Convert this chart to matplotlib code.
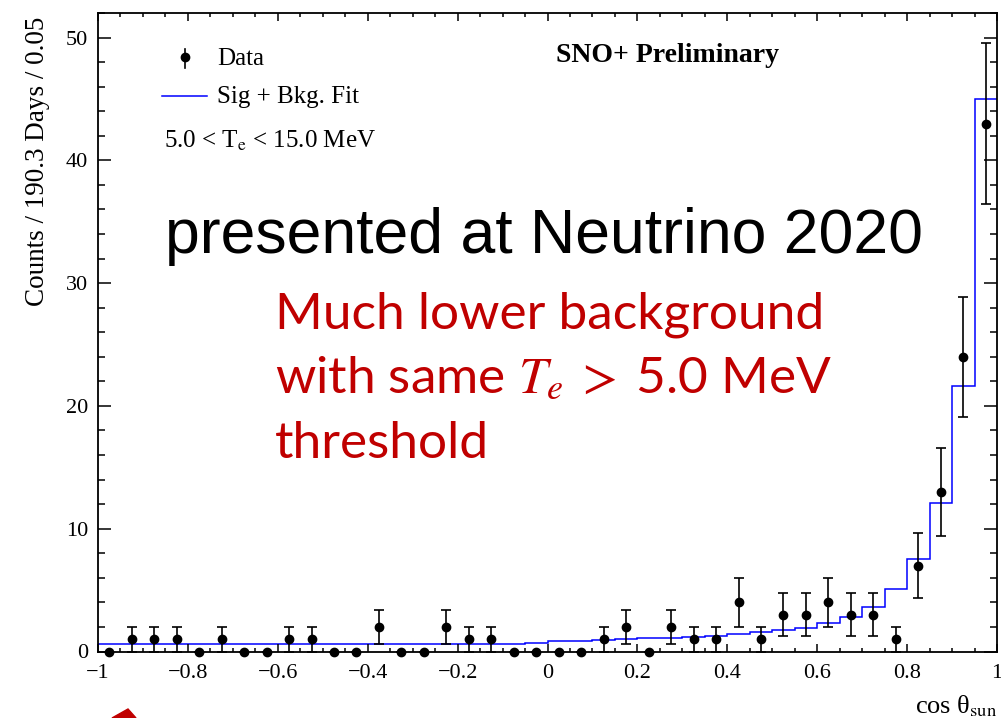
import numpy as np
import matplotlib
matplotlib.use("Agg")
import matplotlib.pyplot as plt
from matplotlib.lines import Line2D
from matplotlib.patches import Polygon
from matplotlib.ticker import MultipleLocator, FuncFormatter

# ------------------------------------------------------------
# data: cos(theta_sun) histogram, 40 bins of width 0.05
# ------------------------------------------------------------
bin_edges = np.linspace(-1.0, 1.0, 41)
bin_centers = 0.5 * (bin_edges[:-1] + bin_edges[1:])

data_counts = [0, 1, 1, 1, 0, 1, 0, 0, 1, 1,
               0, 0, 2, 0, 0, 2, 1, 1, 0, 0,
               0, 0, 1, 2, 0, 2, 1, 1, 4, 1,
               3, 3, 4, 3, 3, 1, 7, 13, 24, 43]

fit_counts = [0.6, 0.6, 0.6, 0.6, 0.6, 0.6, 0.6, 0.6, 0.6, 0.6,
              0.6, 0.6, 0.6, 0.6, 0.6, 0.6, 0.6, 0.6, 0.62, 0.73,
              0.87, 0.88, 0.9, 1.0, 1.08, 1.12, 1.22, 1.3, 1.42, 1.55,
              1.78, 1.95, 2.3, 2.83, 3.65, 5.1, 7.55, 12.1, 21.6, 45.0]

W, H = 1001, 718


def fx(px):
    return px / W


def fy(py):
    return 1 - py / H


plt.rcParams['font.family'] = ['Liberation Serif', 'DejaVu Serif']
plt.rcParams['mathtext.fontset'] = 'stix'

fig = plt.figure(figsize=(W / 100, H / 100), dpi=100)
ax = fig.add_axes([fx(98), fy(651.5), (997 - 98) / W, (651.5 - 13) / H])

# fit (step histogram)
ax.stairs(fit_counts, bin_edges, baseline=None, color='#0000ff', lw=1.1)

# data points with sqrt(N) errors
counts = np.array(data_counts, dtype=float)
ax.errorbar(bin_centers, counts, yerr=np.sqrt(counts), fmt='o', color='black',
            ms=6, elinewidth=1.2, capsize=3.5, capthick=1.2, clip_on=False,
            zorder=3)

ax.set_xlim(-1, 1)
ax.set_ylim(0, 52)

# ROOT-like axes: ticks inside on all four sides
ax.xaxis.set_major_locator(MultipleLocator(0.2))
ax.xaxis.set_minor_locator(MultipleLocator(0.05))
ax.yaxis.set_major_locator(MultipleLocator(10))
ax.yaxis.set_minor_locator(MultipleLocator(2))
ax.xaxis.set_major_formatter(FuncFormatter(lambda v, p: ('%g' % round(v, 2)).replace('-', '\u2212')))
ax.yaxis.set_major_formatter(FuncFormatter(lambda v, p: '%g' % v))
ax.tick_params(axis='both', which='both', direction='in', top=True, right=True,
               width=1.1, labelsize=16)
ax.tick_params(axis='x', which='major', length=6, pad=9)
ax.tick_params(axis='x', which='minor', length=3)
ax.tick_params(axis='y', which='major', length=9.5, pad=7)
ax.tick_params(axis='y', which='minor', length=5)
for s in ax.spines.values():
    s.set_linewidth(1.3)

# axis titles
fig.text(fx(38), fy(17), 'Counts / 190.3 Days / 0.05', rotation=90,
         ha='center', va='top', fontsize=19.5)
fig.text(fx(997), fy(713), 'cos \u03b8$_{\\rm sun}$', ha='right',
         va='baseline', fontsize=19)

# legend (drawn by hand, ROOT style)
fig.add_artist(Line2D([fx(185), fx(185)], [fy(49), fy(68)], color='black', lw=1.2))
fig.add_artist(Line2D([fx(185)], [fy(57)], marker='o', ms=6, color='black'))
fig.text(fx(217), fy(65), 'Data', fontsize=18, va='baseline')
fig.add_artist(Line2D([fx(162), fx(207)], [fy(96), fy(96)], color='#0000ff', lw=1.1))
fig.text(fx(217), fy(103), 'Sig + Bkg. Fit', fontsize=18, va='baseline')
fig.text(fx(164), fy(148), r'5.0 < T$_{\rm e}$ < 15.0 MeV', fontsize=18,
         va='baseline')

fig.text(fx(556), fy(62), 'SNO+ Preliminary', fontsize=20, fontweight='bold',
         va='baseline')

# slide annotations
fig.text(fx(165), fy(253), 'presented at Neutrino 2020', fontsize=45,
         family='Liberation Sans', va='baseline')

red = '#c00000'
fig.text(fx(275), fy(328), 'Much lower background', fontsize=37,
         family='Lato', color=red, va='baseline')
fig.text(fx(275), fy(393), r'with same $T_e\;>\;$5.0 MeV', fontsize=37,
         family='Lato', color=red, va='baseline')
fig.text(fx(275), fy(458), 'threshold', fontsize=37,
         family='Lato', color=red, va='baseline')

# tip of a red arrow from the slide, bottom left
fig.add_artist(Polygon([[fx(112), fy(718)], [fx(128), fy(709)], [fx(136), fy(718)]],
                       closed=True, color=red, transform=fig.transFigure))

fig.savefig('out.png', dpi=100)
